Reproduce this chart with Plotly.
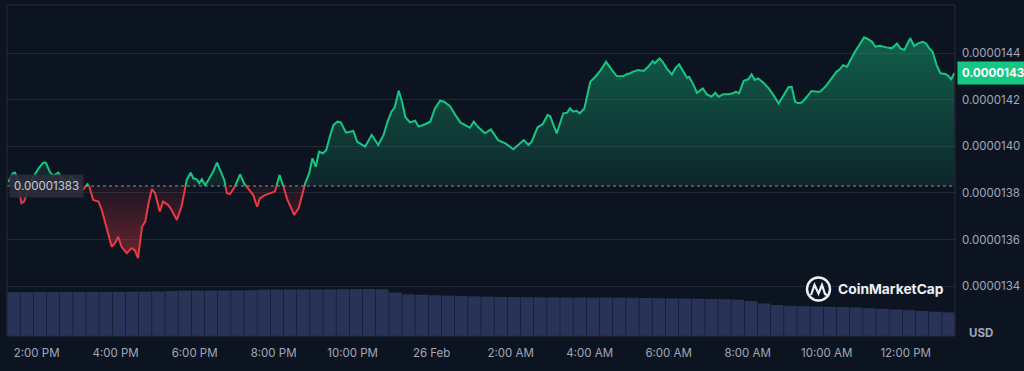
import numpy as np
import pandas as pd
import plotly.graph_objects as go

# ---------------- data ----------------
START = "2024-02-25 13:15"
END = "2024-02-26 13:15"
PRICE_UNIT = 1e-8
BASELINE = 0.00001383
LAST_PRICE_LABEL = "0.0000143"
BASELINE_LABEL = "0.00001383"

minutes = [2, 9, 12, 15, 17, 22, 26, 32, 40, 48,
           55, 59, 65, 70, 76, 78, 83, 93, 98, 103,
           111, 116, 122, 125, 131, 139, 144, 151, 159, 164,
           169, 174, 182, 189, 194, 199, 205, 210, 215, 220,
           225, 232, 237, 245, 250, 258, 265, 270, 273, 279,
           283, 288, 292, 296, 301, 306, 313, 319, 325, 330,
           334, 339, 346, 354, 360, 367, 374, 380, 384, 392,
           400, 407, 414, 420, 426, 433, 436, 443, 449, 453,
           459, 464, 469, 474, 480, 485, 491, 496, 502, 507,
           515, 526, 532, 544, 554, 564, 572, 578, 584, 589,
           595, 600, 605, 612, 620, 625, 635, 643, 650, 658,
           664, 673, 681, 689, 698, 703, 709, 716, 726, 735,
           746, 757, 769, 778, 785, 792, 797, 806, 814, 821,
           825, 835, 845, 851, 855, 860, 865, 870, 877, 886,
           893, 901, 910, 919, 926, 936, 941, 946, 951, 959,
           967, 974, 981, 984, 991, 996, 1002, 1010, 1015, 1021,
           1027, 1033, 1036, 1043, 1048, 1053, 1057, 1063, 1070, 1076,
           1081, 1088, 1096, 1103, 1107, 1112, 1119, 1126, 1131, 1136,
           1141, 1149, 1157, 1164, 1172, 1179, 1187, 1192, 1197, 1202,
           1207, 1215, 1222, 1230, 1235, 1243, 1253, 1260, 1265, 1270,
           1276, 1281, 1288, 1296, 1302, 1308, 1314, 1319, 1326, 1336,
           1344, 1352, 1357, 1363, 1372, 1378, 1384, 1391, 1396, 1401,
           1406, 1412, 1418, 1425, 1430, 1434, 1439]

price_e8 = [1384.7, 1388.5, 1388.7, 1387.0, 1382.7, 1375.6, 1376.3, 1381.3, 1387.0, 1390.6,
            1393.0, 1393.0, 1389.1, 1387.3, 1388.5, 1388.7, 1386.3, 1384.8, 1387.3, 1383.4,
            1380.6, 1381.6, 1383.7, 1382.7, 1377.0, 1376.3, 1372.7, 1364.8, 1356.9, 1358.4,
            1361.2, 1356.9, 1354.1, 1356.3, 1355.5, 1352.0, 1365.5, 1367.7, 1375.6, 1381.6,
            1379.9, 1372.0, 1376.3, 1374.8, 1372.7, 1368.4, 1374.1, 1381.3, 1385.6, 1388.7,
            1386.3, 1385.9, 1384.2, 1385.9, 1383.4, 1385.6, 1389.1, 1393.0, 1388.5, 1385.6,
            1379.9, 1379.6, 1382.7, 1388.0, 1384.2, 1381.6, 1379.1, 1374.1, 1377.7, 1379.1,
            1379.9, 1380.6, 1387.7, 1382.7, 1377.0, 1372.7, 1370.6, 1373.4, 1379.9, 1384.2,
            1388.5, 1394.9, 1391.3, 1397.7, 1397.0, 1398.5, 1404.9, 1409.2, 1410.6, 1410.3,
            1405.9, 1406.6, 1402.0, 1399.9, 1404.9, 1400.6, 1404.9, 1410.6, 1414.9, 1416.8,
            1423.9, 1419.2, 1412.7, 1410.3, 1411.0, 1408.5, 1409.5, 1410.6, 1416.3, 1419.6,
            1419.2, 1417.3, 1413.5, 1410.2, 1408.8, 1408.0, 1410.6, 1408.2, 1405.6, 1407.3,
            1402.7, 1401.3, 1398.8, 1401.0, 1402.7, 1400.6, 1402.0, 1408.2, 1409.6, 1413.5,
            1413.0, 1405.6, 1414.2, 1414.5, 1416.3, 1414.9, 1415.3, 1414.2, 1416.3, 1427.8,
            1429.7, 1432.4, 1436.3, 1432.8, 1430.2, 1430.1, 1431.0, 1431.3, 1432.1, 1432.8,
            1432.4, 1434.2, 1436.6, 1435.7, 1437.8, 1436.3, 1433.5, 1430.9, 1433.5, 1435.2,
            1432.1, 1429.5, 1429.9, 1426.3, 1423.0, 1424.2, 1424.9, 1422.4, 1421.3, 1423.0,
            1421.3, 1422.4, 1422.4, 1422.8, 1423.5, 1422.8, 1428.2, 1428.8, 1430.9, 1428.5,
            1429.2, 1427.3, 1424.9, 1422.1, 1418.5, 1421.6, 1425.4, 1425.6, 1419.2, 1418.5,
            1418.8, 1421.3, 1423.8, 1423.5, 1423.5, 1425.6, 1429.2, 1432.1, 1433.1, 1434.9,
            1434.2, 1437.1, 1440.6, 1444.2, 1446.8, 1446.0, 1444.9, 1442.8, 1443.2, 1442.5,
            1442.1, 1444.2, 1442.1, 1441.4, 1446.4, 1443.1, 1444.2, 1444.9, 1444.2, 1442.1,
            1440.6, 1434.9, 1431.4, 1431.1, 1430.2, 1428.8, 1431.4]

VOL_START = "2024-02-25 13:25"
VOL_STEP = "20min"
volume_musd = [43.8, 43.8, 43.9, 43.9, 44.0, 44.0, 44.1, 44.1, 44.2, 44.3,
               44.4, 44.6, 45.0, 45.4, 45.3, 45.4, 45.5, 45.6, 45.8, 46.3,
               46.4, 46.5, 46.6, 46.6, 46.7, 46.8, 46.9, 46.9, 46.8, 43.5,
               41.6, 41.2, 40.8, 40.4, 40.0, 39.6, 39.3, 39.0, 38.9, 38.8,
               38.7, 38.6, 38.5, 38.5, 38.4, 38.4, 38.3, 38.2, 38.0, 37.8,
               37.6, 37.4, 37.2, 37.0, 36.8, 36.4, 35.0, 32.5, 31.0, 30.2,
               29.8, 29.5, 29.2, 29.0, 28.5, 27.8, 27.2, 26.5, 25.8, 25.0,
               24.3, 23.6]
VOL_AXIS_MAX = 331

x_tick_times = ["2024-02-25 14:00", "2024-02-25 16:00", "2024-02-25 18:00",
                "2024-02-25 20:00", "2024-02-25 22:00", "2024-02-26 00:00",
                "2024-02-26 02:00", "2024-02-26 04:00", "2024-02-26 06:00",
                "2024-02-26 08:00", "2024-02-26 10:00", "2024-02-26 12:00"]
x_tick_text = ["2:00 PM", "4:00 PM", "6:00 PM", "8:00 PM", "10:00 PM", "26 Feb",
               "2:00 AM", "4:00 AM", "6:00 AM", "8:00 AM", "10:00 AM", "12:00 PM"]
y_ticks = [0.0000134, 0.0000136, 0.0000138, 0.0000140, 0.0000142, 0.0000144]
Y_RANGE = [0.000013186, 0.000014607]

# ---------------- styles ----------------
BG = "#0d1421"
GREEN = "#16c784"
RED = "#ea3943"
GRID = "#232836"
TICK = "#a1a7bb"
FONT = "Inter"

# split series at the baseline
m = np.array(minutes, dtype=float)
p = np.array(price_e8) * PRICE_UNIT
xs, ys = [m[0]], [p[0]]
for i in range(1, len(m)):
    a, b = p[i - 1] - BASELINE, p[i] - BASELINE
    if a * b < 0:
        t = a / (a - b)
        xs.append(m[i - 1] + t * (m[i] - m[i - 1]))
        ys.append(BASELINE)
    xs.append(m[i])
    ys.append(p[i])
xs = np.array(xs)
ys = np.array(ys)
times = pd.Timestamp(START) + pd.to_timedelta(xs, unit="min")
up = np.maximum(ys, BASELINE)
dn = np.minimum(ys, BASELINE)
green_line = [v if v >= BASELINE else None for v in ys]
red_line = [v if v <= BASELINE else None for v in ys]
base_arr = np.full(len(ys), BASELINE)

vol_times = pd.date_range(VOL_START, periods=len(volume_musd), freq=VOL_STEP)

fig = go.Figure()

fig.add_trace(go.Bar(x=vol_times, y=volume_musd, yaxis="y2",
                     marker=dict(color="#283357", line=dict(width=0)),
                     hoverinfo="skip", showlegend=False))

fig.add_trace(go.Scatter(x=times, y=base_arr, mode="lines", line=dict(width=0),
                         hoverinfo="skip", showlegend=False))
fig.add_trace(go.Scatter(x=times, y=up, mode="lines", line=dict(width=0), fill="tonexty",
                         fillgradient=dict(type="vertical",
                                           colorscale=[[0, "rgba(22,199,132,0.10)"],
                                                       [1, "rgba(22,199,132,0.42)"]]),
                         hoverinfo="skip", showlegend=False))
fig.add_trace(go.Scatter(x=times, y=base_arr, mode="lines", line=dict(width=0),
                         hoverinfo="skip", showlegend=False))
fig.add_trace(go.Scatter(x=times, y=dn, mode="lines", line=dict(width=0), fill="tonexty",
                         fillgradient=dict(type="vertical",
                                           colorscale=[[0, "rgba(234,57,67,0.42)"],
                                                       [1, "rgba(234,57,67,0.06)"]]),
                         hoverinfo="skip", showlegend=False))
fig.add_trace(go.Scatter(x=times, y=green_line, mode="lines",
                         line=dict(color=GREEN, width=2), connectgaps=False, showlegend=False))
fig.add_trace(go.Scatter(x=times, y=red_line, mode="lines",
                         line=dict(color=RED, width=2), connectgaps=False, showlegend=False))

L, R, T, B = 7, 69, 5, 35
W, H = 1024, 371
PW, PH = W - L - R, H - T - B


def px(x):
    return (x - L) / PW


def py(y):
    return (H - B - y) / PH


shapes = [
    dict(type="line", xref="paper", yref="y", x0=0, x1=1, y0=BASELINE, y1=BASELINE,
         line=dict(color="#8b92a3", width=1, dash="dot"), layer="above"),
    dict(type="rect", xref="paper", yref="paper", x0=0, x1=1, y0=0, y1=1,
         line=dict(color="#262b38", width=1), layer="above"),
    dict(type="circle", xref="paper", yref="paper", x0=px(807), x1=px(830),
         y0=py(300.5), y1=py(277.5), line=dict(color="#eef0f4", width=2.4)),
    dict(type="path", xref="paper", yref="paper",
         path=("M {},{} L {},{} L {},{} L {},{} L {},{} L {},{}".format(
             px(811), py(295), px(814.5), py(285), px(818.5), py(293.5),
             px(822), py(285), px(825), py(294), px(829), py(296.5))),
         line=dict(color="#eef0f4", width=2.2)),
]

annotations = [
    dict(xref="paper", yref="y", x=px(9), y=BASELINE, xanchor="left", yanchor="middle",
         text=BASELINE_LABEL, showarrow=False, bgcolor="rgba(42,46,58,0.92)",
         borderpad=4, font=dict(family=FONT, size=11.5, color="#c9ceda")),
    dict(xref="paper", yref="y", x=1, xshift=2, y=price_e8[-1] * PRICE_UNIT,
         xanchor="left", yanchor="middle", text="<b>" + LAST_PRICE_LABEL + "</b>",
         showarrow=False, bgcolor=GREEN, borderpad=4,
         font=dict(family=FONT, size=11.5, color="#ffffff")),
    dict(xref="paper", yref="paper", x=px(967), y=py(333), xanchor="left", yanchor="middle",
         text="<b>USD</b>", showarrow=False, font=dict(family=FONT, size=11.5, color=TICK)),
    dict(xref="paper", yref="paper", x=px(836), y=py(289), xanchor="left", yanchor="middle",
         text="<b>CoinMarketCap</b>", showarrow=False,
         font=dict(family=FONT, size=13.8, color="#eef0f4")),
]

fig.update_layout(
    width=W, height=H,
    margin=dict(l=L, r=R, t=T, b=B, autoexpand=False),
    paper_bgcolor=BG, plot_bgcolor=BG,
    font=dict(family=FONT, color=TICK),
    showlegend=False,
    bargap=0.04,
    shapes=shapes,
    annotations=annotations,
    xaxis=dict(type="date", range=[START, END], tickvals=x_tick_times, ticktext=x_tick_text,
               showgrid=False, zeroline=False, showline=False, ticks="",
               tickfont=dict(family=FONT, size=11.5, color=TICK), ticklabelstandoff=8),
    yaxis=dict(range=Y_RANGE, side="right", tickvals=y_ticks, tickformat=".7f",
               showgrid=True, gridcolor=GRID, gridwidth=1, zeroline=False, showline=False,
               ticks="", tickfont=dict(family=FONT, size=11.5, color=TICK),
               ticklabelstandoff=6, automargin=False),
    yaxis2=dict(range=[0, VOL_AXIS_MAX], overlaying="y", visible=False, showgrid=False),
)

fig.write_html("out.html", config={"displayModeBar": False},
               post_script="document.body.style.margin='0';document.body.style.overflow='hidden';")
